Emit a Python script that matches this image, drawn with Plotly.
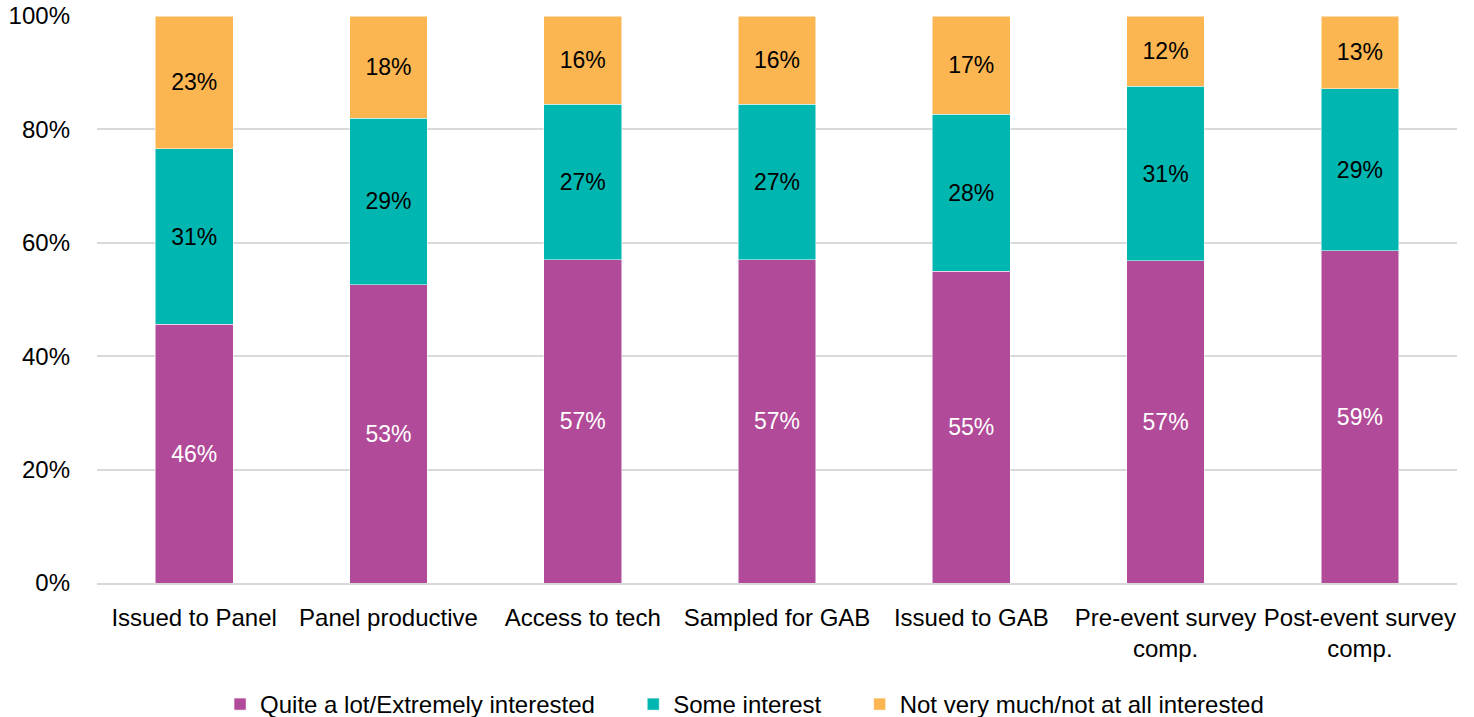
import plotly.graph_objects as go

categories = ["Issued to Panel", "Panel productive", "Access to tech", "Sampled for GAB",
              "Issued to GAB", "Pre-event survey<br>comp.", "Post-event survey<br>comp."]
quite_a_lot = [45.6, 52.6, 57.0, 57.0, 55.0, 56.8, 58.6]
some_interest = [31.0, 29.4, 27.4, 27.4, 27.7, 30.8, 28.6]
not_very_much = [23.4, 18.0, 15.6, 15.6, 17.3, 12.4, 12.8]
series_names = ["Quite a lot/Extremely interested", "Some interest",
                "Not very much/not at all interested"]
colors = ["#B14A98", "#00B6B1", "#FBB652"]
text_colors = ["#FFFFFF", "#000000", "#000000"]
y_ticks = [0, 20, 40, 60, 80, 100]

FONT = "Liberation Sans, Arial, sans-serif"
PAD = "\u00a0" * 5

fig = go.Figure()
for i, (name, vals, col, tcol) in enumerate(zip(series_names,
                                                [quite_a_lot, some_interest, not_very_much],
                                                colors, text_colors)):
    fig.add_trace(go.Bar(
        x=categories, y=vals, name=name + (PAD if i < 2 else ""),
        marker=dict(color=col, line=dict(color="#FFFFFF", width=0.5)),
        texttemplate="%{y:.0f}%", textposition="inside", insidetextanchor="middle",
        textfont=dict(color=tcol, size=23, family=FONT),
        constraintext="none", hoverinfo="x+y+name",
    ))

fig.update_layout(
    barmode="stack",
    bargap=0.6,
    width=1474, height=717,
    margin=dict(l=97, r=17, t=16, b=134, autoexpand=False),
    plot_bgcolor="#FFFFFF", paper_bgcolor="#FFFFFF",
    font=dict(family=FONT, size=24, color="#000000"),
    showlegend=True,
    legend=dict(orientation="h", x=0.1493, xanchor="left", xref="container",
                y=-0.1746, yref="paper", yanchor="top",
                font=dict(size=24, family=FONT), traceorder="normal",
                itemwidth=30),
    uniformtext=dict(mode=False),
)
fig.update_yaxes(range=[0, 100], tickvals=y_ticks, ticktext=[f"{v}%" for v in y_ticks],
                 showgrid=True, gridcolor="#D9D9D9", gridwidth=1.5, zeroline=False,
                 showline=False, ticks="", ticklabelstandoff=26, automargin=False,
                 ticklabeloverflow="allow",
                 tickfont=dict(size=24, family=FONT, color="#000000"))
fig.update_xaxes(showgrid=False, showline=True, linecolor="#D9D9D9", linewidth=1.5,
                 ticks="", ticklabelstandoff=12, automargin=False,
                 tickfont=dict(size=24, family=FONT, color="#000000"))

fig.write_html("out.html", config={"displayModeBar": False},
               post_script="document.body.style.margin='0';document.body.style.overflow='hidden';")
